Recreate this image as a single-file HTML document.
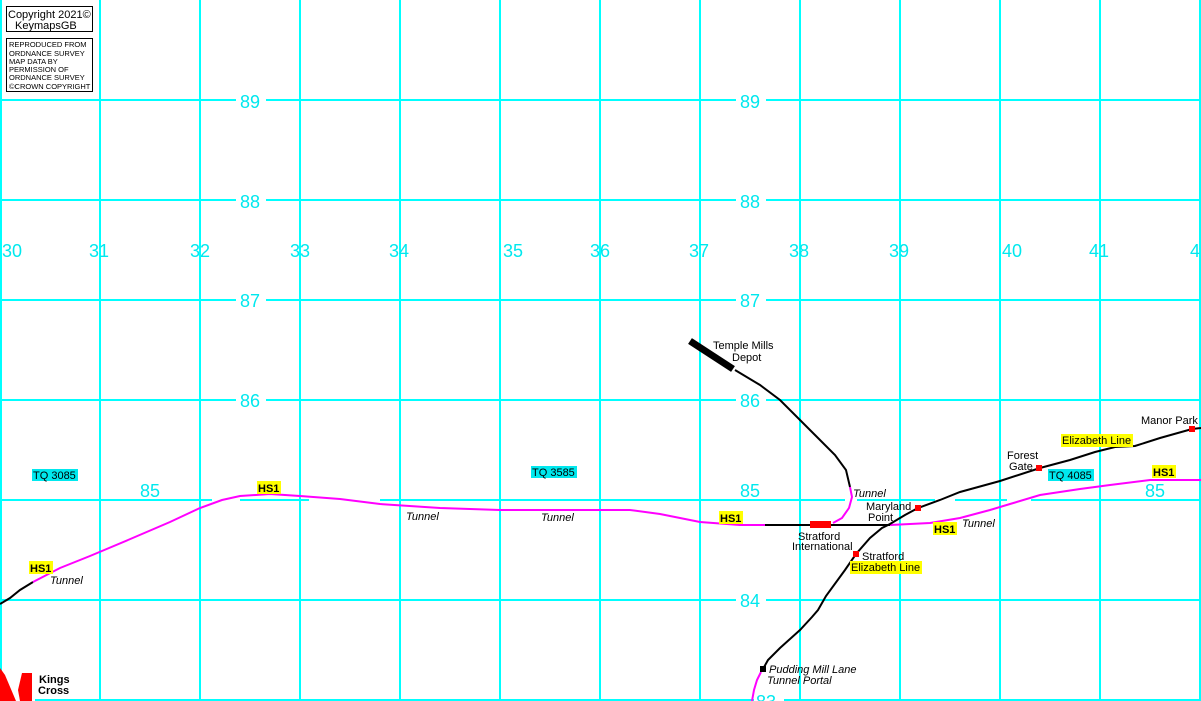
<!DOCTYPE html>
<html><head><meta charset="utf-8"><style>
body{margin:0;background:#fff}
svg{display:block}
text{font-family:"Liberation Sans",sans-serif}
.g{fill:#00e8ee;font-size:18px}
.t{font-size:11px;font-style:italic;fill:#000}
.l{font-size:11px;fill:#000}
.h{font-size:11px;font-weight:bold;fill:#000}
</style></head><body>
<svg width="1201" height="701" viewBox="0 0 1201 701">
<g stroke="#00ffff" stroke-width="2" fill="none">
<line x1="1" y1="0" x2="1" y2="701"/>
<line x1="100" y1="0" x2="100" y2="701"/>
<line x1="200" y1="0" x2="200" y2="701"/>
<line x1="300" y1="0" x2="300" y2="701"/>
<line x1="400" y1="0" x2="400" y2="701"/>
<line x1="500" y1="0" x2="500" y2="701"/>
<line x1="600" y1="0" x2="600" y2="701"/>
<line x1="700" y1="0" x2="700" y2="701"/>
<line x1="800" y1="0" x2="800" y2="701"/>
<line x1="900" y1="0" x2="900" y2="701"/>
<line x1="1000" y1="0" x2="1000" y2="701"/>
<line x1="1100" y1="0" x2="1100" y2="701"/>
<line x1="1200" y1="0" x2="1200" y2="701"/>
<line x1="0" y1="100" x2="1201" y2="100"/>
<line x1="0" y1="200" x2="1201" y2="200"/>
<line x1="0" y1="300" x2="1201" y2="300"/>
<line x1="0" y1="400" x2="1201" y2="400"/>
<line x1="0" y1="500" x2="212" y2="500"/>
<line x1="240" y1="500" x2="309" y2="500"/>
<line x1="380" y1="500" x2="845" y2="500"/>
<line x1="857" y1="500" x2="935" y2="500"/>
<line x1="955" y1="500" x2="1007" y2="500"/>
<line x1="1031" y1="500" x2="1201" y2="500"/>
<line x1="0" y1="600" x2="1201" y2="600"/>
<line x1="35" y1="700" x2="1201" y2="700"/>
</g>
<g fill="#fff">
<rect x="236" y="90" width="30" height="20"/><rect x="736" y="90" width="30" height="20"/>
<rect x="236" y="190" width="30" height="20"/><rect x="736" y="190" width="30" height="20"/>
<rect x="236" y="290" width="30" height="20"/><rect x="736" y="290" width="30" height="20"/>
<rect x="236" y="390" width="30" height="20"/><rect x="736" y="390" width="30" height="20"/>
<rect x="736" y="590" width="30" height="20"/>
<rect x="754" y="692" width="30" height="10"/>
</g>
<g class="g">
<text x="240" y="108">89</text><text x="740" y="108">89</text>
<text x="240" y="208">88</text><text x="740" y="208">88</text>
<text x="240" y="307">87</text><text x="740" y="307">87</text>
<text x="240" y="407">86</text><text x="740" y="407">86</text>
<text x="140" y="497">85</text><text x="740" y="497">85</text><text x="1145" y="497">85</text>
<text x="740" y="607">84</text>
<text x="756" y="708">83</text>
<text x="2" y="257">30</text><text x="89" y="257">31</text><text x="190" y="257">32</text>
<text x="290" y="257">33</text><text x="389" y="257">34</text><text x="503" y="257">35</text>
<text x="590" y="257">36</text><text x="689" y="257">37</text><text x="789" y="257">38</text>
<text x="889" y="257">39</text><text x="1002" y="257">40</text><text x="1089" y="257">41</text>
<text x="1190" y="257">4</text>
</g>
<rect x="6.5" y="6.5" width="86" height="25" fill="#fff" stroke="#000"/>
<text x="8" y="18" style="font-size:11px">Copyright 2021©</text>
<text x="15" y="29" style="font-size:11px">KeymapsGB</text>
<rect x="6.5" y="38.5" width="86" height="53" fill="#fff" stroke="#000"/>
<g style="font-size:7.5px"><text x="9" y="47">REPRODUCED FROM</text><text x="9" y="56">ORDNANCE SURVEY</text>
<text x="9" y="64">MAP DATA BY</text><text x="9" y="72">PERMISSION OF</text><text x="9" y="80">ORDNANCE SURVEY</text><text x="9" y="89">©CROWN COPYRIGHT</text></g>
<g fill="none" stroke-width="2">
<polyline stroke="#000" points="0,604 10,598 20,590 33,582"/>
<polyline stroke="#f0f" points="33,582 60,568 90,556 128,540 170,522 200,508 222,500 240,496 270,494 300,496 340,499 380,504 440,508 500,510 630,510 660,514 700,522 740,525 765,525"/>
<polyline stroke="#000" points="765,525 890,525"/>
<polyline stroke="#f0f" points="890,525 930,523 960,518 990,510 1010,504 1040,495 1080,489 1110,485 1150,480 1201,480"/>
<polyline stroke="#f0f" points="833,523 842,518 849,508 852,497 850,487"/>
<polyline stroke="#000" points="850,487 846,470 835,455 815,435 780,400 760,385 735,370"/>
<polyline stroke="#000" points="763,669 768,660 780,648 800,630 812,617 818,610 826,596 845,570 856,554 870,538 882,528 890,524 905,515 918,508 940,500 960,492 1000,481 1040,468 1070,460 1095,452 1115,447 1135,446 1160,438 1192,429 1201,428"/>
<polyline stroke="#f0f" points="761,672 757,680 754,690 752,701"/>
</g>
<line x1="690" y1="341" x2="733" y2="369" stroke="#000" stroke-width="7"/>
<rect x="810" y="521" width="21" height="7" fill="#f00"/>
<rect x="760" y="666" width="6" height="6" fill="#000"/>
<g fill="#f00"><rect x="853" y="551" width="6" height="6"/><rect x="915" y="505" width="6" height="6"/>
<rect x="1036" y="465" width="6" height="6"/><rect x="1189" y="426" width="6" height="6"/></g>
<polygon fill="#f00" points="0,668 5,675 16,701 0,701"/>
<polygon fill="#f00" points="22,673 32,673 32,701 20,701 18,690"/>
<g fill="#ff0">
<rect x="29" y="561" width="24" height="13"/><rect x="257" y="481" width="24" height="13"/>
<rect x="719" y="511" width="24" height="13"/><rect x="933" y="522" width="24" height="13"/>
<rect x="1152" y="465" width="24" height="13"/>
<rect x="850" y="561" width="72" height="13"/><rect x="1061" y="434" width="72" height="13"/>
</g>
<g class="h"><text x="30" y="572">HS1</text><text x="258" y="492">HS1</text><text x="720" y="522">HS1</text>
<text x="934" y="533">HS1</text><text x="1153" y="476">HS1</text></g>
<g fill="#00e8ee"><rect x="32" y="469" width="46" height="12"/><rect x="531" y="466" width="46" height="12"/><rect x="1048" y="469" width="46" height="12"/></g>
<g class="l"><text x="33" y="479">TQ 3085</text><text x="532" y="476">TQ 3585</text><text x="1049" y="479">TQ 4085</text>
<text x="851" y="571">Elizabeth Line</text><text x="1062" y="444">Elizabeth Line</text>
<text x="713" y="349">Temple Mills</text><text x="732" y="361">Depot</text>
<text x="798" y="540">Stratford</text><text x="792" y="550">International</text>
<text x="862" y="560">Stratford</text>
<text x="866" y="510">Maryland</text><text x="868" y="521">Point</text>
<text x="1007" y="459">Forest</text><text x="1009" y="470">Gate</text>
<text x="1141" y="424">Manor Park</text></g>
<g class="t"><text x="50" y="584">Tunnel</text><text x="406" y="520">Tunnel</text><text x="541" y="521">Tunnel</text>
<text x="853" y="497">Tunnel</text><text x="962" y="527">Tunnel</text>
<text x="769" y="673">Pudding Mill Lane</text><text x="767" y="684">Tunnel Portal</text></g>
<text x="39" y="683" style="font-size:11px;font-weight:bold">Kings</text>
<text x="38" y="694" style="font-size:11px;font-weight:bold">Cross</text>
</svg>
</body></html>
